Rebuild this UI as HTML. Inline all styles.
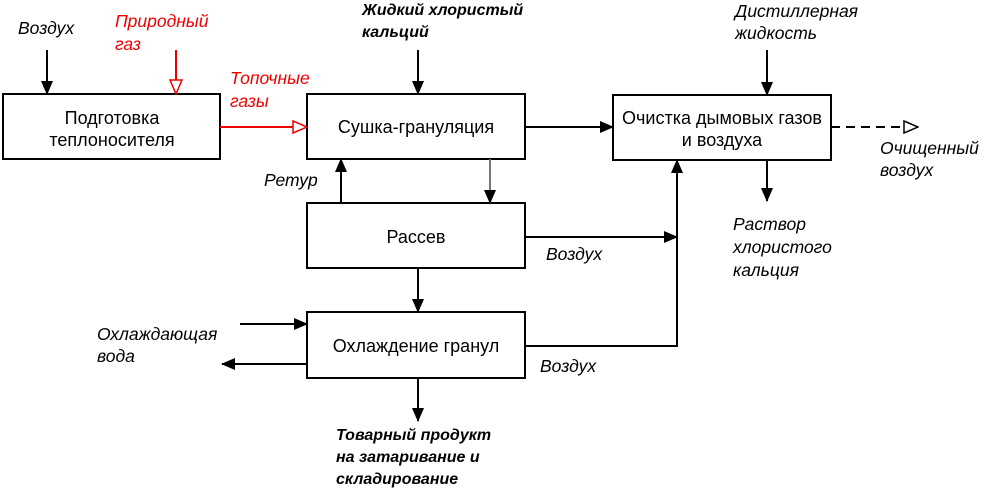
<!DOCTYPE html>
<html><head><meta charset="utf-8"><style>
body{margin:0;background:#fff;}
svg{display:block;font-family:"Liberation Sans",sans-serif;}
.l{font-size:17.5px;font-style:italic;}
.b{font-size:18px;text-anchor:middle;}
</style></head><body>
<svg width="987" height="488" viewBox="0 0 987 488" xmlns="http://www.w3.org/2000/svg">
<defs>
<marker id="a" markerWidth="14" markerHeight="12" refX="13" refY="6" orient="auto" markerUnits="userSpaceOnUse"><path d="M0,0 L14,6 L0,12Z" fill="#000"/></marker>
<marker id="r" markerWidth="16" markerHeight="14" refX="15" refY="7" orient="auto" markerUnits="userSpaceOnUse"><path d="M1,1 L15,7 L1,13Z" fill="#fff" stroke="#e00" stroke-width="1.5"/></marker>
<marker id="o" markerWidth="16" markerHeight="14" refX="15" refY="7" orient="auto" markerUnits="userSpaceOnUse"><path d="M1,1 L15,7 L1,13Z" fill="#fff" stroke="#000" stroke-width="1.5"/></marker>
</defs>
<g fill="#fff" stroke="#000" stroke-width="2">
<rect x="3" y="94" width="217" height="65"/>
<rect x="307" y="94" width="218" height="65"/>
<rect x="613" y="95" width="218" height="65"/>
<rect x="307" y="203" width="218" height="65"/>
<rect x="307" y="312" width="218" height="66"/>
</g>
<text class="b" x="112" y="124">Подготовка</text>
<text class="b" x="112" y="146">теплоносителя</text>
<text class="b" x="416" y="133">Сушка-грануляция</text>
<text class="b" x="722" y="124">Очистка дымовых газов</text>
<text class="b" x="722" y="146">и воздуха</text>
<text class="b" x="416" y="243">Рассев</text>
<text class="b" x="416" y="352">Охлаждение гранул</text>
<g stroke="#000" stroke-width="2" fill="none">
<line x1="47" y1="50" x2="47" y2="94" marker-end="url(#a)"/>
<line x1="418" y1="50" x2="418" y2="94" marker-end="url(#a)"/>
<line x1="767" y1="50" x2="767" y2="95" marker-end="url(#a)"/>
<line x1="525" y1="127" x2="613" y2="127" marker-end="url(#a)"/>
<line x1="767" y1="160" x2="767" y2="201" marker-end="url(#a)"/>
<line x1="831" y1="127" x2="918" y2="127" stroke-dasharray="9,6" marker-end="url(#o)"/>
<line x1="490" y1="159" x2="490" y2="203" stroke="#777" marker-end="url(#a)"/>
<line x1="341" y1="203" x2="341" y2="159" marker-end="url(#a)"/>
<line x1="525" y1="237" x2="677" y2="237" marker-end="url(#a)"/>
<polyline points="525,346 677,346 677,160" marker-end="url(#a)"/>
<line x1="418" y1="268" x2="418" y2="312" marker-end="url(#a)"/>
<line x1="240" y1="324" x2="307" y2="324" marker-end="url(#a)"/>
<line x1="307" y1="364" x2="222" y2="364" marker-end="url(#a)"/>
<line x1="418" y1="378" x2="418" y2="421" marker-end="url(#a)"/>
<g stroke="#e00"><line x1="176" y1="50" x2="176" y2="94" marker-end="url(#r)"/>
<line x1="220" y1="127" x2="307" y2="127" marker-end="url(#r)"/></g>
</g>
<text class="l" x="18" y="34">Воздух</text>
<g class="l" fill="#e00"><text x="115" y="27">Природный</text><text x="115" y="50">газ</text>
<text x="230" y="84">Топочные</text><text x="230" y="107">газы</text></g>
<g font-size="16" font-style="italic" font-weight="bold"><text x="362" y="15">Жидкий хлористый</text><text x="362" y="37">кальций</text>
<text x="336" y="440">Товарный продукт</text><text x="336" y="462">на затаривание и</text><text x="336" y="484">складирование</text></g>
<text class="l" x="735" y="17">Дистиллерная</text><text class="l" x="735" y="39">жидкость</text>
<text class="l" x="880" y="154">Очищенный</text><text class="l" x="880" y="176">воздух</text>
<text class="l" x="733" y="230">Раствор</text><text class="l" x="733" y="253">хлористого</text><text class="l" x="733" y="276">кальция</text>
<text class="l" x="264" y="186">Ретур</text>
<text class="l" x="546" y="260">Воздух</text>
<text class="l" x="540" y="372">Воздух</text>
<text class="l" x="97" y="340">Охлаждающая</text><text class="l" x="97" y="362">вода</text>
</svg>
</body></html>
